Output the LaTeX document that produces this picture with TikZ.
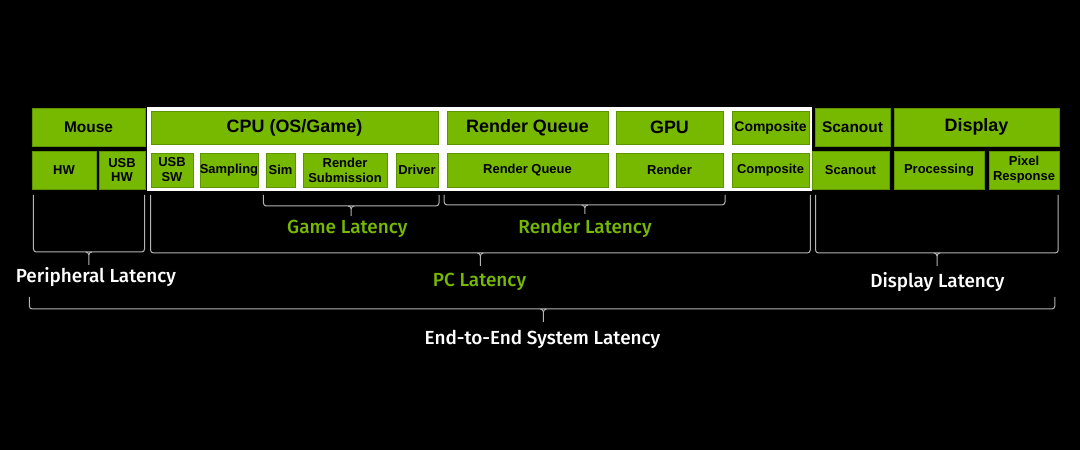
\documentclass[tikz,border=0pt]{standalone}
\usepackage{fontspec}
\setmainfont{Liberation Sans}
\newfontfamily\labfont{Fira Sans}[BoldFont={Fira Sans Medium}]
\usetikzlibrary{fit}
\definecolor{nvgreen}{HTML}{76B900}
\definecolor{nvedge}{HTML}{5E9400}
\definecolor{bracegray}{HTML}{B4B4B4}
\tikzset{
  blk/.style={fill=nvgreen, draw=nvedge, line width=0.6bp, inner sep=0pt},
  btxt/.style={align=center, text=black, inner sep=0pt},
  big/.style={font=\fontsize{18}{20}\selectfont\bfseries},
  mid/.style={font=\fontsize{15.5}{17}\selectfont\bfseries},
  cmp/.style={font=\fontsize{14}{16}\selectfont\bfseries},
  sml/.style={font=\fontsize{13}{15}\selectfont\bfseries},
  brc/.style={draw=bracegray, line width=1bp, rounded corners=3bp},
  tip/.style={draw=bracegray, line width=1bp},
  glab/.style={text=nvgreen, font=\labfont\fontsize{19}{22}\selectfont\bfseries},
  wlab/.style={text=white, font=\labfont\fontsize{19}{22}\selectfont\bfseries},
}
\newcommand{\bx}[7]{\node[blk, fit={(#2,#3) (#4,#5)}] (#1) {};
  \node[btxt,#6] (#1-t) at (#1.center) {#7};}
\newcommand{\latbrace}[6]{%
  % #1 left x, #2 top y, #3 horizontal y, #4 right x, #5 tip x, #6 tip end y
  \draw[brc] (#1,#2) -- (#1,#3) -- (#4,#3) -- (#4,#2);
  \draw[tip] ({#5-3},#3) to[out=0,in=90] (#5,{#3+3}) -- (#5,#6);
  \draw[tip] ({#5+3},#3) to[out=180,in=90] (#5,{#3+3});
}
\begin{document}
\begin{tikzpicture}[x=1bp,y=-1bp]
\useasboundingbox (0,0) rectangle (1080,450);
\fill[black] (0,0) rectangle (1080,450);
% white frame behind PC blocks
\fill[white] (147,107) rectangle (812,191);
% top row
\bx{mouse}{32}{108}{145}{146}{mid}{Mouse}
\bx{cpu}{151}{111}{438}{144}{big}{CPU (OS/Game)}
\bx{rqtop}{447}{111}{608}{144}{big}{Render Queue}
\bx{gpu}{616}{111}{723}{144}{big}{GPU}
\bx{comptop}{732}{111}{809}{144}{cmp}{Composite}
\bx{scantop}{815}{108}{890}{146}{mid}{Scanout}
\bx{display}{894}{108}{1059}{146}{big}{Display}
% bottom row
\bx{hw}{32}{151}{96}{189}{sml}{HW}
\bx{usbhw}{99}{151}{145}{189}{sml}{USB\\HW}
\bx{usbsw}{151}{153}{193}{187}{sml}{USB\\SW}
\bx{sampling}{200}{153}{258}{187}{sml}{Sampling}
\bx{sim}{266}{153}{295}{187}{sml}{Sim}
\bx{rsub}{303}{153}{387}{187}{sml}{Render\\Submission}
\bx{driver}{396}{153}{438}{187}{sml}{Driver}
\bx{rqbot}{447}{153}{608}{187}{sml}{Render Queue}
\bx{render}{616}{153}{723}{187}{sml}{Render}
\bx{compbot}{732}{153}{809}{187}{sml}{Composite}
\bx{scanbot}{812}{151}{889}{189}{sml}{Scanout}
\bx{processing}{894}{151}{984}{189}{sml}{Processing}
\bx{pixel}{989}{151}{1059}{189}{sml}{Pixel\\Response}
% braces
\latbrace{33.4}{195}{252}{144.6}{88.8}{265}
\latbrace{150.5}{195}{253}{810.3}{480.4}{266}
\latbrace{263.4}{195}{206}{439}{351.2}{216}
\latbrace{444.2}{195}{205}{725}{584.8}{214}
\latbrace{815.5}{195}{253}{1058.2}{937}{266}
\latbrace{29.3}{297}{309}{1054.8}{543.4}{322}
% labels
\node[glab] (game) at (347.3,229) {Game Latency};
\node[glab] (rend) at (585,228) {Render Latency};
\node[wlab] (peri) at (95.9,277) {Peripheral Latency};
\node[glab] (pc) at (479.5,282) {PC Latency};
\node[wlab] (disp) at (937.4,282) {Display Latency};
\node[wlab] (e2e) at (542.5,339) {End-to-End System Latency};
\end{tikzpicture}
\end{document}
